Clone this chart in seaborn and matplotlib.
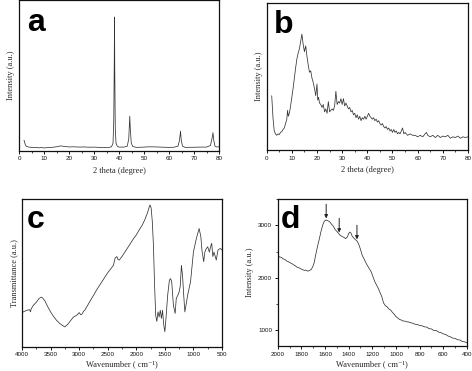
import matplotlib
matplotlib.use("Agg")
import matplotlib.pyplot as plt
import seaborn as sns
import numpy as np
import pandas as pd
from matplotlib.ticker import MultipleLocator

sns.set_style("ticks")
plt.rcParams['font.family'] = ['Liberation Sans', 'DejaVu Sans']

# ---------------- data ----------------
a_points = [(2, 0.07), (2.5, 0.04), (3, 0.028), (4, 0.024), (5, 0.022), (6, 0.02), (7, 0.022),
            (8, 0.019), (9, 0.021), (10, 0.018), (11, 0.02), (12, 0.021), (13, 0.022), (14, 0.024),
            (15, 0.026), (16, 0.03), (17, 0.032), (18, 0.028), (19, 0.027), (20, 0.025), (22, 0.026),
            (24, 0.024), (26, 0.025), (28, 0.023), (30, 0.024), (32, 0.022), (34, 0.021), (36, 0.022),
            (37, 0.026), (37.6, 0.05), (37.9, 0.2), (38.1, 0.6), (38.2, 0.89), (38.3, 0.55),
            (38.5, 0.15), (38.8, 0.05), (39.3, 0.03), (40, 0.024), (42, 0.024), (43.3, 0.03),
            (43.9, 0.08), (44.3, 0.23), (44.5, 0.15), (44.9, 0.05), (45.5, 0.028), (47, 0.022),
            (50, 0.024), (52, 0.026), (55, 0.025), (58, 0.023), (60, 0.022), (62, 0.023), (63.6, 0.03),
            (64.2, 0.07), (64.6, 0.13), (64.9, 0.07), (65.4, 0.03), (66.5, 0.022), (70, 0.023),
            (73, 0.024), (75, 0.024), (76.6, 0.035), (77.3, 0.09), (77.6, 0.12), (77.9, 0.07),
            (78.4, 0.03), (79, 0.025), (80, 0.026)]

b_points = [(2, 0.37), (2.5, 0.22), (3, 0.13), (3.5, 0.11), (4, 0.10), (4.5, 0.11), (5, 0.105),
            (5.5, 0.12), (6, 0.125), (6.5, 0.14), (7, 0.15), (7.5, 0.18), (8, 0.21), (8.3, 0.27),
            (8.6, 0.23), (9, 0.25), (9.5, 0.30), (10, 0.36), (10.5, 0.42), (11, 0.49), (11.5, 0.56),
            (12, 0.62), (12.5, 0.66), (13, 0.69), (13.5, 0.74), (14, 0.79), (14.5, 0.72), (15, 0.67),
            (15.5, 0.71), (16, 0.64), (16.5, 0.58), (17, 0.53), (17.5, 0.54), (18, 0.49), (18.5, 0.46),
            (19, 0.42), (19.5, 0.37), (20, 0.45), (20.3, 0.34), (20.6, 0.36), (21, 0.32), (21.5, 0.31),
            (22, 0.29), (22.5, 0.31), (23, 0.26), (23.5, 0.28), (24, 0.25), (24.5, 0.33), (25, 0.26),
            (25.5, 0.27), (26, 0.28), (26.5, 0.27), (27, 0.30), (27.5, 0.40), (28, 0.31), (28.5, 0.33),
            (29, 0.32), (29.5, 0.35), (30, 0.31), (30.5, 0.35), (31, 0.30), (31.5, 0.32), (32, 0.30),
            (32.5, 0.28), (33, 0.29), (33.5, 0.26), (34, 0.27), (34.5, 0.24), (35, 0.25), (35.5, 0.22),
            (36, 0.24), (36.5, 0.21), (37, 0.23), (37.5, 0.20), (38, 0.22), (38.5, 0.21), (39, 0.23),
            (39.5, 0.21), (40, 0.23), (40.5, 0.25), (41, 0.23), (41.5, 0.22), (42, 0.21), (42.5, 0.22),
            (43, 0.20), (43.5, 0.21), (44, 0.19), (44.5, 0.20), (45, 0.18), (45.5, 0.17), (46, 0.18),
            (46.5, 0.16), (47, 0.15), (47.5, 0.16), (48, 0.14), (48.5, 0.15), (49, 0.13), (49.5, 0.14),
            (50, 0.12), (50.5, 0.14), (51, 0.12), (51.5, 0.13), (52, 0.11), (52.5, 0.12), (53, 0.11),
            (53.5, 0.13), (54, 0.15), (54.5, 0.11), (55, 0.12), (56, 0.10), (57, 0.11), (58, 0.10),
            (59, 0.10), (60, 0.09), (61, 0.10), (62, 0.09), (63, 0.11), (63.5, 0.12), (64, 0.10),
            (65, 0.09), (66, 0.10), (67, 0.085), (68, 0.10), (69, 0.085), (70, 0.095), (71, 0.09),
            (72, 0.10), (73, 0.08), (74, 0.09), (75, 0.085), (76, 0.095), (77, 0.08), (78, 0.09),
            (79, 0.085), (80, 0.09)]

c_points = [(4000, 0.23), (3950, 0.24), (3900, 0.247), (3870, 0.25), (3850, 0.235), (3840, 0.255),
            (3800, 0.28), (3750, 0.30), (3700, 0.326), (3660, 0.335), (3640, 0.33), (3600, 0.31),
            (3550, 0.27), (3500, 0.235), (3450, 0.205), (3400, 0.18), (3350, 0.16), (3300, 0.145),
            (3250, 0.133), (3200, 0.15), (3150, 0.175), (3100, 0.20), (3050, 0.21), (3020, 0.22),
            (3000, 0.23), (2970, 0.215), (2950, 0.22), (2920, 0.24), (2900, 0.247), (2850, 0.28),
            (2800, 0.314), (2750, 0.345), (2700, 0.38), (2650, 0.41), (2600, 0.44), (2550, 0.47),
            (2500, 0.50), (2450, 0.525), (2400, 0.55), (2370, 0.60), (2340, 0.61), (2320, 0.59),
            (2300, 0.586), (2270, 0.60), (2250, 0.61), (2200, 0.64), (2150, 0.67), (2100, 0.70),
            (2050, 0.73), (2000, 0.756), (1950, 0.79), (1900, 0.82), (1850, 0.86), (1800, 0.91),
            (1770, 0.95), (1760, 0.96), (1740, 0.94), (1720, 0.85), (1700, 0.69), (1680, 0.42),
            (1660, 0.21), (1640, 0.17), (1620, 0.235), (1600, 0.20), (1580, 0.246), (1560, 0.19),
            (1540, 0.246), (1520, 0.15), (1500, 0.10), (1480, 0.19), (1450, 0.35), (1420, 0.45),
            (1400, 0.46), (1380, 0.44), (1350, 0.28), (1320, 0.224), (1300, 0.326), (1270, 0.35),
            (1250, 0.37), (1230, 0.41), (1210, 0.55), (1190, 0.48), (1170, 0.35), (1150, 0.235),
            (1130, 0.28), (1100, 0.35), (1050, 0.44), (1000, 0.64), (950, 0.73), (900, 0.80),
            (870, 0.745), (850, 0.65), (820, 0.575), (800, 0.64), (780, 0.66), (750, 0.676),
            (720, 0.64), (700, 0.676), (680, 0.70), (660, 0.61), (640, 0.64), (600, 0.586),
            (570, 0.654), (530, 0.665), (500, 0.654)]

d_points = [(2000, 2430), (1985, 2395), (1970, 2390), (1955, 2360), (1940, 2350), (1925, 2320),
            (1910, 2305), (1895, 2285), (1880, 2270), (1865, 2245), (1850, 2225), (1835, 2200),
            (1820, 2190), (1805, 2170), (1790, 2155), (1775, 2140), (1760, 2145), (1745, 2125),
            (1730, 2140), (1715, 2160), (1700, 2230), (1690, 2300), (1680, 2420), (1665, 2580),
            (1650, 2720), (1635, 2870), (1620, 3000), (1605, 3080), (1590, 3100), (1575, 3085),
            (1560, 3065), (1545, 3020), (1530, 2985), (1515, 2920), (1500, 2885), (1485, 2845),
            (1470, 2805), (1455, 2785), (1440, 2770), (1425, 2745), (1410, 2780), (1400, 2840),
            (1390, 2870), (1380, 2850), (1370, 2790), (1360, 2765), (1345, 2730), (1330, 2700),
            (1315, 2640), (1300, 2540), (1285, 2425), (1270, 2360), (1250, 2265), (1230, 2190),
            (1210, 2115), (1195, 2025), (1180, 1930), (1165, 1865), (1150, 1800), (1135, 1720),
            (1120, 1640), (1105, 1520), (1090, 1470), (1075, 1445), (1060, 1405), (1045, 1385),
            (1030, 1340), (1015, 1305), (1000, 1260), (985, 1235), (970, 1205), (955, 1195),
            (940, 1175), (925, 1175), (910, 1160), (895, 1160), (880, 1145), (860, 1135),
            (840, 1115), (820, 1110), (800, 1090), (780, 1085), (760, 1065), (740, 1060),
            (720, 1030), (700, 1025), (680, 995), (660, 995), (640, 965), (620, 955), (600, 930),
            (580, 920), (560, 890), (540, 875), (520, 850), (500, 845), (480, 820), (460, 815),
            (440, 785), (420, 780), (400, 760)]

d_arrow_x = [1590, 1480, 1330]

panel_letters = ["a", "b", "c", "d"]
xlabels = ["2 theta (degree)", "2 theta (degree)", "Wavenumber ( cm\u207b\u00b9)", "Wavenumber ( cm\u207b\u00b9)"]
ylabels = ["Intensity (a.u.)", "Intensity (a.u.)", "Transmittance (a.u.)", "Intensity (a.u.)"]

# ---------------- figure ----------------
fig = plt.figure(figsize=(4.72, 3.71), dpi=100)
rects = [
    [0.0403, 0.5938, 0.4237, 0.4049],
    [0.5650, 0.5957, 0.4265, 0.3954],
    [0.0466, 0.0660, 0.4237, 0.3976],
    [0.5883, 0.0674, 0.4010, 0.3962],
]
axes = [fig.add_axes(r) for r in rects]

serif = ['Liberation Serif', 'DejaVu Serif']
line_kw = dict(color="#333333", linewidth=0.55)

datasets = [a_points, b_points, c_points, d_points]
for ax, pts in zip(axes, datasets):
    df = pd.DataFrame(pts, columns=["x", "y"])
    sns.lineplot(data=df, x="x", y="y", ax=ax, sort=False, estimator=None, **line_kw)

# limits
axes[0].set_xlim(0, 80); axes[0].set_ylim(0, 1.0)
axes[1].set_xlim(0, 80); axes[1].set_ylim(0, 1.0)
axes[2].set_xlim(4000, 500); axes[2].set_ylim(0, 1.0)
axes[3].set_xlim(2000, 400); axes[3].set_ylim(700, 3500)

for ax in axes[:2]:
    ax.xaxis.set_major_locator(MultipleLocator(10))
    ax.xaxis.set_minor_locator(MultipleLocator(5))
axes[2].xaxis.set_major_locator(MultipleLocator(500))
axes[2].xaxis.set_minor_locator(MultipleLocator(250))
axes[3].xaxis.set_major_locator(MultipleLocator(200))
axes[3].xaxis.set_minor_locator(MultipleLocator(100))
axes[3].yaxis.set_major_locator(MultipleLocator(1000))
axes[3].yaxis.set_minor_locator(MultipleLocator(500))

for i, ax in enumerate(axes):
    for s in ax.spines.values():
        s.set_visible(True)
        s.set_linewidth(0.9)
        s.set_color("#111111")
    ax.tick_params(axis="both", which="major", direction="out", length=2.5, width=0.7,
                   labelsize=4.5, pad=1.5, colors="#111111")
    ax.tick_params(axis="both", which="minor", direction="out", length=1.3, width=0.6)
    if i < 3:
        ax.set_yticks([])
        ax.yaxis.set_minor_locator(matplotlib.ticker.NullLocator())
    ax.set_xlabel(xlabels[i], fontsize=6, family=serif, labelpad=4 if i < 2 else 2.5)
    ax.set_ylabel(ylabels[i], fontsize=6, family=serif, labelpad=3)
    ax.grid(False)

# panel letters
letter_pos = [(0.04, 0.80), (0.036, 0.80), (0.025, 0.805), (0.017, 0.80)]
for ax, let, (lx, ly) in zip(axes, panel_letters, letter_pos):
    ax.text(lx, ly, let, transform=ax.transAxes, fontsize=23, fontweight="bold",
            family=['Liberation Sans', 'DejaVu Sans'], ha="left", va="baseline", color="black")

# arrows on panel d
d_df = pd.DataFrame(d_points, columns=["x", "y"])
for ax_x in d_arrow_x:
    yv = np.interp(ax_x, d_df["x"][::-1], d_df["y"][::-1])
    axes[3].annotate("", xy=(ax_x, yv + 30), xytext=(ax_x, yv + 300),
                     arrowprops=dict(arrowstyle="-|>", color="#222222", lw=0.7,
                                     mutation_scale=5, shrinkA=0, shrinkB=0))

fig.savefig("out.png", dpi=100)
